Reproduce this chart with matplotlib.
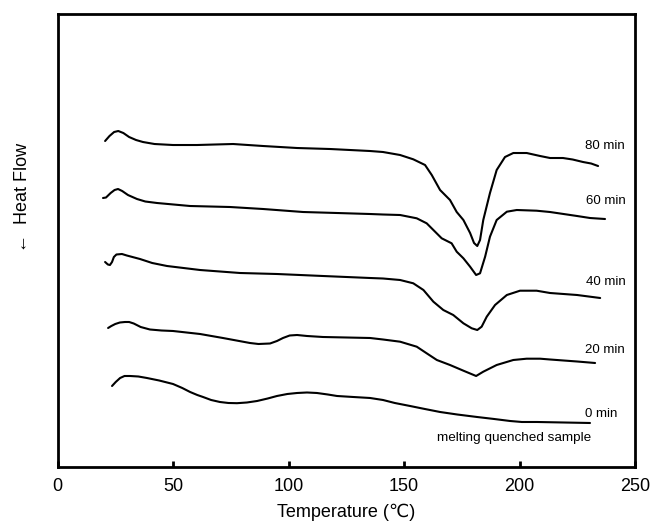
import matplotlib
matplotlib.use("Agg")
import matplotlib.pyplot as plt

plt.rcParams['font.family'] = ['Liberation Sans', 'DejaVu Sans']

# Temperature (deg C) and heat flow (a.u., offset curves)
t_80 = [20.6, 22.5, 24.5, 26.3, 28.5, 31.0, 34.0, 37.0, 42.0, 50.0, 60.4, 68.0, 76.0,
        89.0, 103.7, 118.0, 135.3, 140.9, 148.3, 154.0, 159.1, 162.0, 165.6, 169.9,
        172.8, 175.7, 178.6, 180.3, 181.7, 182.9, 184.3, 187.2, 190.1, 193.7, 197.3,
        203.1, 208.9, 213.2, 218.8, 223.0, 227.5, 231.0, 234.0]
hf_80 = [32.6, 33.1, 33.5, 33.6, 33.4, 33.0, 32.7, 32.5, 32.3, 32.2, 32.2, 32.25, 32.3,
         32.1, 31.9, 31.8, 31.6, 31.5, 31.2, 30.77, 30.2, 29.2, 27.7, 26.7,
         25.5, 24.7, 23.4, 22.4, 22.1, 22.7, 24.7, 27.4, 29.7, 31.0, 31.4,
         31.4, 31.1, 30.9, 30.9, 30.75, 30.5, 30.35, 30.1]

t_60 = [19.7, 21.0, 23.0, 24.7, 26.2, 28.0, 30.5, 34.4, 38.0, 43.1, 57.4, 74.7, 89.0,
        106.3, 121.0, 135.3, 140.9, 148.3, 155.5, 159.8, 162.7, 166.3, 170.6, 172.8,
        175.7, 178.6, 181.2, 182.9, 185.1, 187.2, 190.1, 194.5, 198.8, 207.4, 213.2,
        224.9, 230.5, 237.0]
hf_60 = [26.9, 26.95, 27.4, 27.7, 27.8, 27.6, 27.2, 26.8, 26.55, 26.4, 26.1, 26.0, 25.8,
         25.5, 25.4, 25.3, 25.25, 25.2, 24.87, 24.37, 23.7, 22.87, 22.37, 21.53,
         20.87, 20.03, 19.2, 19.37, 21.03, 23.03, 24.7, 25.53, 25.7, 25.63, 25.5,
         25.1, 24.9, 24.8]

t_40 = [20.6, 21.8, 22.7, 23.6, 24.4, 25.5, 27.9, 30.0, 35.7, 41.0, 47.4, 61.7, 79.0,
        95.0, 114.9, 135.3, 140.9, 148.3, 154.0, 158.4, 162.7, 167.0, 171.3, 175.7,
        179.3, 181.7, 183.6, 185.8, 189.4, 194.5, 200.2, 207.4, 213.2, 224.9, 234.9]
hf_40 = [20.5, 20.25, 20.2, 20.5, 21.0, 21.25, 21.3, 21.15, 20.8, 20.4, 20.1, 19.7, 19.4,
         19.3, 19.1, 18.9, 18.85, 18.7, 18.37, 17.7, 16.53, 15.7, 15.2, 14.37,
         13.87, 13.7, 14.03, 15.03, 16.2, 17.2, 17.63, 17.63, 17.4, 17.2, 16.9]

t_20 = [21.9, 23.3, 25.0, 27.0, 29.2, 31.0, 33.0, 36.0, 40.0, 45.0, 50.0, 61.7, 71.6,
        83.3, 87.0, 92.0, 95.0, 97.6, 100.5, 103.7, 108.0, 114.9, 135.3, 140.9, 148.3,
        155.5, 159.8, 164.2, 169.9, 175.7, 181.2, 184.3, 190.1, 197.3, 203.1, 208.9,
        213.2, 224.9, 232.7]
hf_20 = [13.9, 14.1, 14.3, 14.45, 14.5, 14.5, 14.35, 14.0, 13.75, 13.65, 13.6, 13.3, 12.9,
         12.4, 12.3, 12.35, 12.6, 12.9, 13.15, 13.2, 13.1, 13.0, 12.9, 12.75, 12.53,
         12.03, 11.37, 10.7, 10.2, 9.63, 9.1, 9.53, 10.2, 10.7, 10.83, 10.83,
         10.75, 10.55, 10.4]

t_0 = [23.6, 25.2, 27.1, 29.0, 31.4, 35.0, 38.7, 44.0, 50.0, 54.0, 57.4, 60.5, 63.0,
       66.5, 70.3, 74.0, 77.7, 82.0, 86.4, 91.0, 95.0, 99.5, 103.7, 108.0, 112.3,
       117.0, 121.0, 128.0, 135.3, 140.9, 146.0, 152.6, 159.0, 165.6, 173.0, 181.6,
       189.0, 195.9, 201.0, 207.6, 219.0, 230.5]
hf_0 = [8.1, 8.5, 8.9, 9.1, 9.1, 9.05, 8.9, 8.65, 8.3, 7.9, 7.5, 7.2, 7.0,
        6.7, 6.5, 6.4, 6.38, 6.45, 6.6, 6.85, 7.1, 7.3, 7.4, 7.45, 7.4,
        7.25, 7.1, 7.0, 6.9, 6.7, 6.4, 6.1, 5.8, 5.5, 5.25, 5.0,
        4.8, 4.6, 4.5, 4.5, 4.45, 4.4]

labels = ["80 min", "60 min", "40 min", "20 min", "0 min"]
note = "melting quenched sample"
x_ticks = [0, 50, 100, 150, 200, 250]

fig = plt.figure(figsize=(6.52, 5.25), dpi=100)
ax = fig.add_axes([0.0882, 0.1105, 0.974 - 0.0882, 0.9733 - 0.1105])

series = [(t_80, hf_80), (t_60, hf_60), (t_40, hf_40), (t_20, hf_20), (t_0, hf_0)]
for t, hf in series:
    ax.plot(t, hf, color='black', lw=1.5, solid_joinstyle='round',
            solid_capstyle='round')

label_pos = [(237.0, 32.1), (237.5, 26.6), (237.5, 18.5), (237.0, 11.7), (235.5, 5.3)]
for lab, (x, y) in zip(labels, label_pos):
    ax.text(x, y, lab, ha='center', va='center', fontsize=9.5)
ax.text(197.5, 2.85, note, ha='center', va='center', fontsize=9.7)

ax.set_xlim(0, 250)
ax.set_ylim(0, 45.3)
ax.set_xticks(x_ticks)
ax.set_xticklabels([str(v) for v in x_ticks])
ax.set_yticks([])
ax.tick_params(axis='x', direction='in', length=4, width=2, pad=8, labelsize=13)
for s in ax.spines.values():
    s.set_linewidth(2)
ax.set_xlabel("Temperature (\u2103)", fontsize=13, labelpad=6)
fig.text(23 / 652, 1 - 197 / 525, "\u2190  Heat Flow", rotation=90,
         ha='center', va='center', fontsize=13)

fig.savefig("out.png", dpi=100)
